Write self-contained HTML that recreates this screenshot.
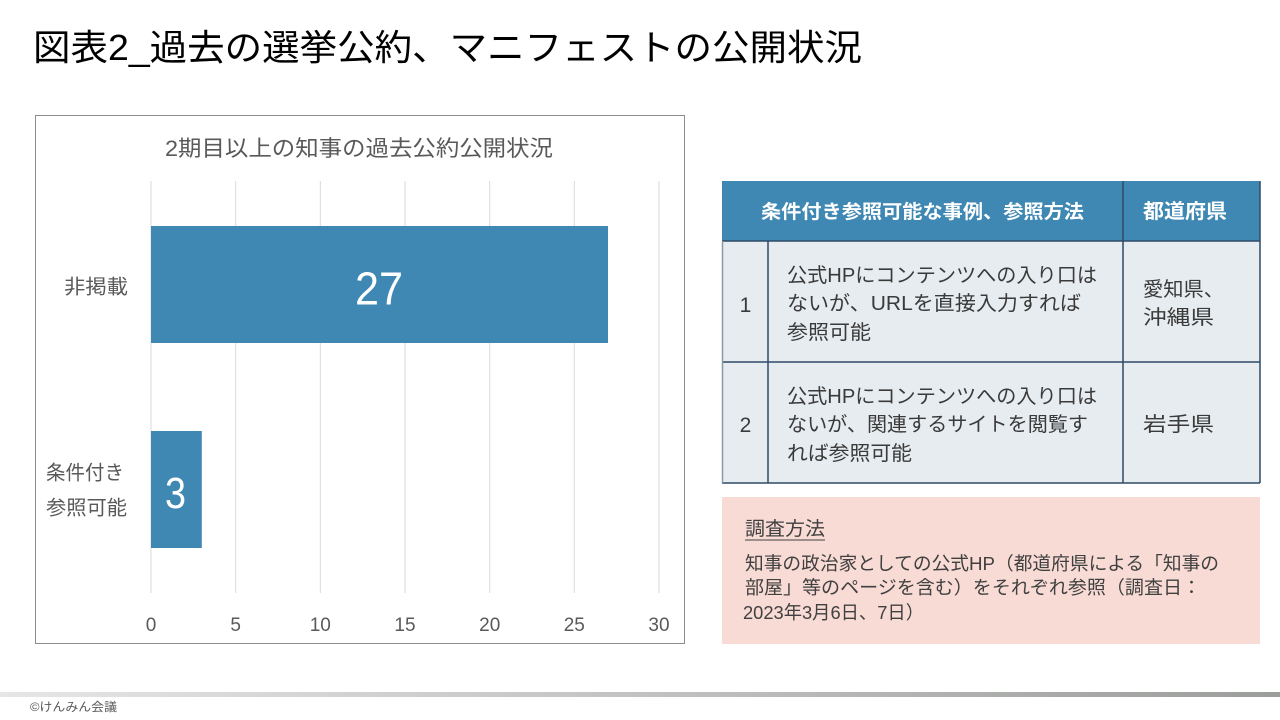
<!DOCTYPE html>
<html>
<head>
<meta charset="utf-8">
<style>
  html,body{margin:0;padding:0;background:#fff;}
  svg{display:block;}
  text{font-family:"Liberation Sans","Noto Sans CJK JP",sans-serif;}
</style>
</head>
<body>
<svg width="1280" height="720" viewBox="0 0 1280 720" xmlns="http://www.w3.org/2000/svg">
  <defs>
    <linearGradient id="g" x1="0" x2="1" y1="0" y2="0">
      <stop offset="0" stop-color="#e6e6e6"/>
      <stop offset="1" stop-color="#9c9e9c"/>
    </linearGradient>
  </defs>
  <rect width="1280" height="720" fill="#fff"/>

  <!-- Title -->
  <text x="33" y="60" font-size="36" fill="#000" textLength="829" lengthAdjust="spacingAndGlyphs">図表2_過去の選挙公約、マニフェストの公開状況</text>

  <!-- Chart box -->
  <rect x="35.5" y="115.5" width="649" height="528" fill="#fff" stroke="#8c8c8c" stroke-width="1"/>
  <text x="165" y="156" font-size="22" fill="#595959" textLength="388" lengthAdjust="spacingAndGlyphs">2期目以上の知事の過去公約公開状況</text>

  <!-- gridlines -->
  <g stroke="#d9d9d9" stroke-width="1">
    <line x1="151" y1="181" x2="151" y2="593"/>
    <line x1="235.7" y1="181" x2="235.7" y2="593"/>
    <line x1="320.3" y1="181" x2="320.3" y2="593"/>
    <line x1="405" y1="181" x2="405" y2="593"/>
    <line x1="489.7" y1="181" x2="489.7" y2="593"/>
    <line x1="574.3" y1="181" x2="574.3" y2="593"/>
    <line x1="659" y1="181" x2="659" y2="593"/>
  </g>

  <!-- bars -->
  <rect x="151" y="226" width="457" height="117" fill="#3f88b3"/>
  <rect x="151" y="431" width="50.8" height="117" fill="#3f88b3"/>
  <text x="355" y="304.5" font-size="46" fill="#fff" textLength="48" lengthAdjust="spacingAndGlyphs">27</text>
  <text x="165" y="508" font-size="44" fill="#fff" textLength="21" lengthAdjust="spacingAndGlyphs">3</text>

  <!-- category labels -->
  <text x="64" y="293.6" font-size="20" fill="#595959" textLength="64" lengthAdjust="spacingAndGlyphs">非掲載</text>
  <text x="46" y="479.6" font-size="20" fill="#595959" textLength="78" lengthAdjust="spacingAndGlyphs">条件付き</text>
  <text x="46" y="514.6" font-size="20" fill="#595959" textLength="81" lengthAdjust="spacingAndGlyphs">参照可能</text>

  <!-- tick labels -->
  <g font-size="19" fill="#595959" text-anchor="middle">
    <text x="151" y="631">0</text>
    <text x="235.7" y="631">5</text>
    <text x="320.3" y="631">10</text>
    <text x="405" y="631">15</text>
    <text x="489.7" y="631">20</text>
    <text x="574.3" y="631">25</text>
    <text x="659" y="631">30</text>
  </g>

  <!-- Table -->
  <rect x="722" y="181" width="538" height="60" fill="#3f88b3"/>
  <rect x="722" y="241" width="538" height="242" fill="#e7ecf0"/>
  <g stroke="#2f4a66" stroke-width="1.5">
    <line x1="722" y1="241" x2="1260" y2="241"/>
    <line x1="722" y1="362" x2="1260" y2="362"/>
    <line x1="722" y1="483" x2="1260" y2="483"/>
    <line x1="768" y1="241" x2="768" y2="483"/>
    <line x1="1123" y1="181" x2="1123" y2="483"/>
    <line x1="1260" y1="181" x2="1260" y2="483"/>
  </g>
  <line x1="722.5" y1="241" x2="722.5" y2="483" stroke="#8a9ba8" stroke-width="1.5"/>

  <text x="761" y="218" font-size="19" font-weight="bold" fill="#fff" textLength="323" lengthAdjust="spacingAndGlyphs">条件付き参照可能な事例、参照方法</text>
  <text x="1143" y="218" font-size="20" font-weight="bold" fill="#fff" textLength="84" lengthAdjust="spacingAndGlyphs">都道府県</text>

  <g font-size="20" fill="#3a3a3a">
    <text x="745.5" y="312" font-size="21" text-anchor="middle">1</text>
    <text x="745.5" y="432" font-size="21" text-anchor="middle">2</text>

    <text x="787" y="282" textLength="310" lengthAdjust="spacingAndGlyphs">公式HPにコンテンツへの入り口は</text>
    <text x="787" y="310" textLength="294" lengthAdjust="spacingAndGlyphs">ないが、URLを直接入力すれば</text>
    <text x="787" y="339" textLength="84" lengthAdjust="spacingAndGlyphs">参照可能</text>

    <text x="787" y="403" textLength="310" lengthAdjust="spacingAndGlyphs">公式HPにコンテンツへの入り口は</text>
    <text x="787" y="431" textLength="301" lengthAdjust="spacingAndGlyphs">ないが、関連するサイトを閲覧す</text>
    <text x="787" y="460" textLength="125" lengthAdjust="spacingAndGlyphs">れば参照可能</text>

    <text x="1143" y="296" textLength="81" lengthAdjust="spacingAndGlyphs">愛知県、</text>
    <text x="1143" y="324" textLength="71" lengthAdjust="spacingAndGlyphs">沖縄県</text>
    <text x="1143" y="431" textLength="71" lengthAdjust="spacingAndGlyphs">岩手県</text>
  </g>

  <!-- Note box -->
  <rect x="722" y="497" width="538" height="147" fill="#f8dbd5"/>
  <g fill="#404040">
    <text x="745" y="535" font-size="19" textLength="80" lengthAdjust="spacingAndGlyphs">調査方法</text>
    <line x1="745" y1="540" x2="825" y2="540" stroke="#404040" stroke-width="1"/>
    <text x="745" y="570" font-size="18.5" textLength="474" lengthAdjust="spacingAndGlyphs">知事の政治家としての公式HP（都道府県による「知事の</text>
    <text x="745" y="594" font-size="18.5" textLength="456" lengthAdjust="spacingAndGlyphs">部屋」等のページを含む）をそれぞれ参照（調査日：</text>
    <text x="743" y="619" font-size="18.5" textLength="181" lengthAdjust="spacingAndGlyphs">2023年3月6日、7日）</text>
  </g>

  <!-- Footer -->
  <rect x="0" y="692" width="1280" height="5" fill="url(#g)"/>
  <text x="30" y="711" font-size="12" fill="#595959" textLength="87" lengthAdjust="spacingAndGlyphs">©けんみん会議</text>
</svg>
</body>
</html>
